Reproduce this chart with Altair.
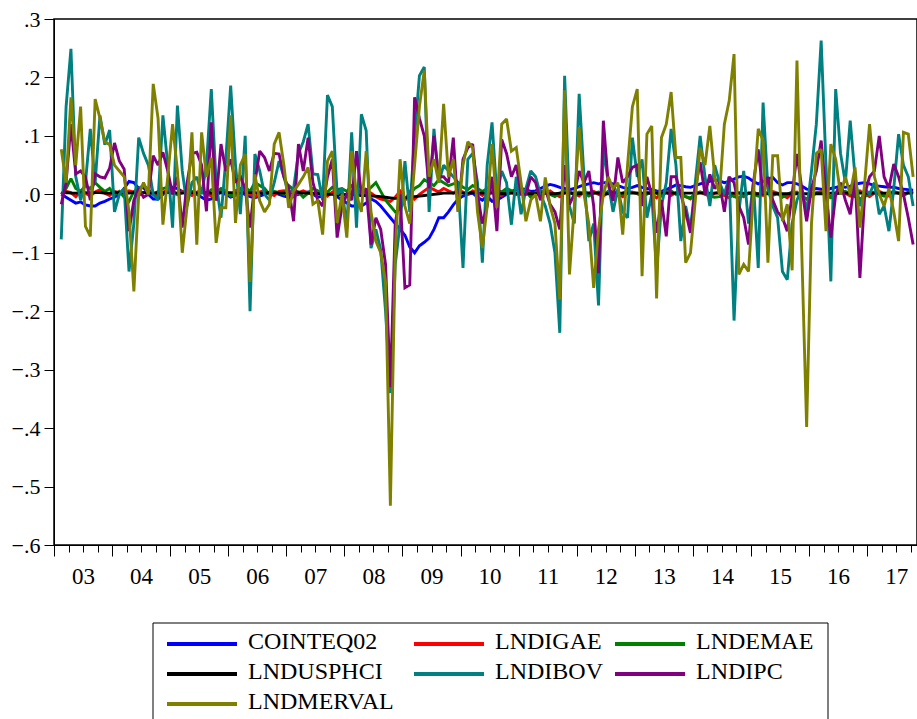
import json
import altair as alt
import pandas as pd

# ---------------- data (monthly, Feb 2003 .. Oct 2017) ----------------
series_names = ["COINTEQ02", "LNDIGAE", "LNDEMAE", "LNDUSPHCI", "LNDIBOV", "LNDIPC", "LNDMERVAL"]
series_colors = ["#0000FF", "#FF0000", "#008000", "#000000", "#008080", "#800080", "#808000"]
year_labels = ["03", "04", "05", "06", "07", "08", "09", "10", "11", "12", "13", "14", "15", "16", "17"]
y_ticks = [-0.6, -0.5, -0.4, -0.3, -0.2, -0.1, 0.0, 0.1, 0.2, 0.3]

cointeq02 = [
    0.0, -0.005, -0.01, -0.015, -0.013, -0.018, -0.02, -0.02, -0.015, -0.012,
    -0.008, -0.005, 0.0, 0.01, 0.022, 0.02, 0.01, 0.012, 0.0, -0.008,
    -0.008, 0.0, 0.008, 0.012, 0.01, 0.005, 0.003, 0.002, 0.0, -0.005,
    -0.01, -0.008, 0.0, 0.003, 0.0, -0.005, -0.002, 0.002, 0.0, -0.004,
    -0.006, -0.003, 0.0, 0.002, 0.003, 0.0, -0.003, -0.005, -0.002, 0.0,
    0.003, 0.004, 0.0, -0.005, -0.003, 0.0, 0.002, -0.004, -0.01, -0.015,
    -0.02, -0.02, -0.02, -0.015, -0.008, -0.012, -0.02, -0.03, -0.04, -0.05,
    -0.06, -0.07, -0.09, -0.10, -0.088, -0.082, -0.075, -0.06, -0.04, -0.04,
    -0.03, -0.018, -0.008, -0.003, 0.0, 0.002, -0.005, -0.01, -0.003, -0.012,
    -0.01, -0.005, 0.0, 0.005, 0.008, 0.01, 0.008, 0.005, 0.006, 0.01,
    0.014, 0.017, 0.015, 0.012, 0.01, 0.008, 0.01, 0.013, 0.016, 0.018,
    0.02, 0.018, 0.02, 0.02, 0.018, 0.015, 0.012, 0.01, 0.012, 0.015,
    0.012, 0.01, 0.008, 0.006, 0.005, 0.008, 0.012, 0.016, 0.015, 0.013,
    0.012, 0.015, 0.018, 0.02, 0.022, 0.025, 0.023, 0.02, 0.022, 0.026,
    0.03, 0.031, 0.028, 0.022, 0.018, 0.022, 0.026, 0.029, 0.02, 0.016,
    0.02, 0.02, 0.018, 0.014, 0.009, 0.008, 0.01, 0.009, 0.008, 0.01,
    0.012, 0.014, 0.012, 0.014, 0.017, 0.019, 0.02, 0.018, 0.015, 0.014,
    0.013, 0.012, 0.012, 0.01, 0.009, 0.008, 0.007,
]

lndigae = [
    0.0, 0.005, 0.003, -0.004, 0.006, 0.002, -0.003, 0.004, 0.008, 0.002,
    -0.002, 0.005, 0.003, 0.0, 0.006, 0.004, -0.002, 0.003, 0.006, 0.001,
    -0.003, 0.004, 0.007, 0.002, 0.0, 0.005, 0.003, -0.002, 0.004,
    0.006, 0.002, -0.003, 0.005, 0.008, 0.003, 0.0, 0.006, 0.01, 0.004,
    0.0, -0.005, 0.004, 0.007, 0.002, -0.002, 0.005, 0.006, 0.001, -0.004,
    0.003, 0.006, 0.002, 0.0, 0.005, 0.003, -0.003, 0.004, 0.006,
    0.002, -0.003, 0.004, 0.006, -0.002, 0.005, 0.002, -0.004, -0.008, -0.01,
    -0.012, -0.005, 0.005, -0.01, 0.004, -0.008, 0.0, 0.006, 0.012, 0.008,
    0.004, 0.01, 0.006, 0.002, 0.008, 0.004, 0.0, 0.006, 0.003, -0.002,
    0.004,
    0.006, 0.002, -0.002, 0.005, 0.003, 0.0, 0.004, 0.006, 0.002, -0.003,
    0.004, 0.002, 0.006, 0.0, -0.004, 0.003, 0.005, 0.001, -0.003, 0.004,
    0.002, 0.005, 0.0, -0.003, 0.003, 0.005, 0.001, -0.004, 0.002, 0.004,
    0.001, -0.003, 0.004, 0.0, -0.006, 0.002, 0.004, -0.002, 0.003, 0.0,
    -0.004, -0.008, 0.002, 0.004, 0.0, -0.003, 0.002, 0.004, -0.002, -0.006,
    0.0, 0.003, -0.004, 0.002, 0.004, 0.0, -0.002, 0.003, 0.005, 0.002,
    -0.002, -0.006, 0.002, 0.004, -0.003, -0.008, 0.0, 0.003, 0.005, 0.001,
    -0.004, 0.002, 0.006, 0.002, -0.003, 0.004, 0.006, 0.0, -0.004, 0.002,
    0.005, 0.001, -0.003, 0.004, 0.002, -0.002, 0.003, 0.001,
]

lndemae = [
    0.0, 0.01, 0.027, 0.01, 0.005, 0.015, 0.01, 0.02, 0.012, 0.005,
    0.01, 0.0, 0.005, -0.005, -0.012, 0.005, 0.01, 0.015, 0.008, 0.0,
    0.005, 0.01, 0.012, 0.006, 0.0, 0.003, 0.008, 0.005, 0.002,
    0.005, 0.0, 0.008, 0.004, 0.01, 0.006, -0.003, 0.0, 0.008, 0.012,
    0.005, 0.02, 0.015, 0.01, 0.0, 0.005, 0.003, 0.0, 0.015, 0.008,
    0.004, -0.005, 0.002, 0.01, 0.006, 0.0, 0.004, 0.012, 0.008,
    0.01, 0.005, 0.015, 0.01, 0.0, 0.005, 0.012, 0.02, 0.005, -0.01,
    -0.02, -0.03, -0.025, -0.01, 0.0, 0.01, 0.015, 0.025, 0.02, 0.015,
    0.025, 0.02, 0.015, 0.018, 0.02, 0.012, 0.008, 0.015, 0.01, 0.005,
    0.01,
    0.015, 0.008, 0.004, 0.01, 0.006, 0.0, 0.01, 0.005, -0.005, 0.003,
    0.006, 0.004, 0.0, -0.004, 0.002, 0.006, 0.003, 0.0, 0.004, 0.002,
    -0.003, 0.002, 0.004, 0.0, 0.005, 0.003, -0.002, 0.002, 0.006, 0.003,
    0.002, -0.004, 0.0, 0.005, 0.002, -0.003, 0.004, 0.006, 0.0, 0.003,
    -0.004, -0.006, 0.0, 0.004, 0.002, -0.003, -0.005, -0.004, 0.0, 0.002,
    -0.004, -0.006, -0.002, 0.002, 0.0, -0.003, 0.002, 0.003, -0.002, 0.001,
    -0.005, 0.0, 0.004, 0.002, -0.004, -0.008, -0.003, 0.002, 0.004, -0.002,
    -0.006, 0.0, 0.003, 0.005, 0.0, -0.004, -0.008, -0.004, 0.002, 0.004,
    0.0, -0.003, 0.002, 0.005, 0.002, -0.002, 0.004, 0.003,
]

lndusphci = [
    0.002, 0.003, 0.002, 0.002, 0.003, 0.003, 0.002, 0.003, 0.003, 0.002,
    0.002, 0.003, 0.003, 0.003, 0.002, 0.003, 0.003, 0.003, 0.002, 0.002,
    0.003, 0.003, 0.003, 0.003, 0.002, 0.002, 0.003, 0.003, 0.002,
    0.003, 0.003, 0.002, 0.002, 0.003, 0.003, 0.003, 0.002, 0.002, 0.003,
    0.003, 0.003, 0.002, 0.002, 0.003, 0.003, 0.002, 0.002, 0.002, 0.003,
    0.003, 0.002, 0.002, 0.002, 0.001, 0.001, 0.0, 0.0, -0.001,
    -0.001, 0.0, 0.0, -0.001, -0.002, -0.002, -0.003, -0.003, -0.004, -0.005,
    -0.006, -0.007, -0.007, -0.006, -0.005, -0.004, -0.003, -0.002, -0.001, 0.0,
    0.001, 0.002, 0.002, 0.002, 0.003, 0.002, 0.002, 0.003, 0.002, 0.002,
    0.002,
    0.002, 0.002, 0.001, 0.001, 0.002, 0.002, 0.002, 0.001, 0.001, 0.001,
    0.002, 0.002, 0.001, 0.001, 0.002, 0.002, 0.002, 0.001, 0.001, 0.002,
    0.002, 0.002, 0.002, 0.001, 0.001, 0.002, 0.002, 0.002, 0.002, 0.002,
    0.002, 0.002, 0.002, 0.002, 0.002, 0.002, 0.002, 0.002, 0.002, 0.002,
    0.002, 0.002, 0.002, 0.002, 0.002, 0.002, 0.002, 0.002, 0.002, 0.002,
    0.002, 0.002, 0.002, 0.002, 0.001, 0.001, 0.001, 0.001, 0.001, 0.001,
    0.001, 0.001, 0.001, 0.001, 0.001, 0.001, 0.001, 0.001, 0.001, 0.001,
    0.002, 0.002, 0.002, 0.002, 0.002, 0.002, 0.002, 0.002, 0.002, 0.002,
    0.002, 0.002, 0.002, 0.002, 0.002, 0.002, 0.002, 0.002,
]

lndibov = [
    -0.077, 0.15, 0.249, 0.03, -0.01, 0.02, 0.112, 0.02, 0.135, 0.085,
    0.11, -0.03, 0.0, 0.01, -0.132, -0.05, 0.097, 0.07, 0.05, 0.0,
    -0.01, 0.135, 0.05, -0.057, 0.152, 0.04, -0.02, 0.02, 0.03, 0.0,
    0.05, 0.18, 0.02, -0.04, 0.06, 0.186, 0.05, -0.034, 0.10, -0.20,
    0.069, 0.04, 0.0, -0.01, 0.02, 0.057, 0.03, 0.0, 0.01, 0.07,
    0.09, 0.12, 0.035, 0.034, -0.01, 0.17, 0.15, 0.0, 0.01, -0.057,
    0.106, -0.057, 0.137, 0.109, -0.092, -0.06, -0.095, -0.2, -0.34, -0.12,
    -0.05, 0.057, -0.03, 0.1, 0.203, 0.218, -0.03, 0.112, 0.02, 0.05,
    0.04, 0.03, 0.02, -0.126, 0.06, 0.07, 0.02, -0.117, 0.05, 0.123,
    0.0, 0.04, 0.02, -0.052, 0.03, -0.034, 0.01, 0.04, 0.03, 0.0,
    -0.02, -0.05, -0.1, -0.237, 0.203, -0.02, -0.05, 0.172, 0.03, -0.08,
    -0.05, -0.19, 0.08, 0.02, -0.03, 0.01, -0.03, -0.04, 0.097, 0.03,
    0.06, -0.04, 0.0, -0.13, -0.02, 0.02, 0.112, 0.05, -0.08, -0.02,
    -0.06, 0.02, 0.1, 0.03, -0.02, 0.05, 0.02, 0.0, 0.03, -0.216,
    -0.03, 0.04, -0.05, 0.02, -0.126, 0.157, 0.01, -0.02, -0.04, -0.132,
    -0.146, -0.05, -0.01, 0.01, -0.03, 0.04, 0.12, 0.263, 0.05, -0.149,
    0.18, 0.07, 0.02, 0.126, 0.03, -0.02, 0.01, 0.0, 0.02, -0.034,
    -0.02, -0.063, 0.01, 0.103, 0.05, 0.03, -0.02,
]

lndipc = [
    -0.017, 0.02, 0.12, 0.035, 0.04, 0.03, -0.01, 0.035, 0.03, 0.028,
    0.045, 0.088, 0.057, 0.043, -0.063, -0.01, 0.01, -0.005, 0.0, 0.066,
    0.05, 0.072, 0.04, 0.0, 0.03, -0.057, 0.02, 0.07, 0.072, 0.05,
    -0.029, 0.123, -0.011, 0.086, 0.04, 0.06, 0.02, 0.03, 0.01, -0.057,
    0.02, 0.074, 0.063, 0.04, 0.07, 0.069, 0.03, 0.01, -0.046, 0.086,
    0.04, 0.097, 0.02, -0.01, -0.02, 0.03, 0.06, -0.074, -0.02, 0.0,
    -0.01, 0.074, 0.0, 0.01, -0.086, -0.04, -0.06, -0.12, -0.33, -0.05,
    0.0, -0.16, -0.155, 0.166, 0.13, 0.10, 0.01, 0.1, 0.03, 0.03,
    0.02, 0.097, -0.03, 0.06, 0.08, 0.086, 0.0, -0.05, -0.02, 0.03,
    -0.063, 0.094, 0.07, 0.03, 0.05, 0.0, 0.0, 0.03, 0.02, -0.01,
    0.01, -0.017, -0.03, -0.06, 0.05, -0.017, 0.0, 0.04, 0.02, 0.04,
    -0.02, -0.135, 0.126, 0.02, -0.011, 0.063, 0.02, 0.03, 0.046, 0.05,
    -0.02, 0.03, 0.0, -0.066, -0.01, -0.072, 0.03, 0.03, 0.0, -0.03,
    -0.066, 0.01, 0.055, 0.0, 0.034, 0.01, 0.02, -0.03, 0.03, 0.02,
    -0.02, -0.04, -0.086, 0.02, 0.077, 0.0, 0.03, -0.01, -0.03, -0.04,
    -0.063, 0.0, 0.069, 0.01, -0.046, 0.01, 0.04, 0.092, 0.0, -0.074,
    0.0, 0.02, -0.01, -0.034, 0.03, -0.143, 0.0, 0.03, 0.04, 0.1,
    0.03, 0.01, 0.052, 0.03, 0.0, -0.04, -0.086,
]

lndmerval = [
    0.077, 0.02, 0.166, 0.05, 0.15, -0.055, -0.072, 0.163, 0.13, 0.09,
    0.085, 0.05, 0.04, 0.03, -0.03, -0.166, 0.0, 0.02, 0.0, 0.189,
    0.13, -0.052, 0.03, 0.12, 0.04, -0.10, -0.02, 0.106, -0.086, 0.106,
    0.03, 0.063, -0.083, -0.023, -0.023, 0.135, -0.049, 0.05, 0.069, -0.15,
    0.034, -0.011, -0.03, -0.017, 0.086, 0.106, 0.05, -0.023, 0.005, 0.017,
    0.03, 0.046, -0.017, -0.011, -0.069, 0.057, 0.074, -0.049, 0.0, -0.074,
    0.074, 0.0, -0.03, 0.074, -0.03, -0.08, -0.1, -0.15, -0.533, -0.1,
    0.06, -0.02, -0.05, 0.05, 0.15, 0.212, 0.03, 0.06, 0.02, 0.155,
    0.03, 0.06, -0.03, 0.05, 0.09, 0.08, -0.03, -0.092, -0.02, 0.086,
    -0.023, 0.12, 0.129, 0.074, 0.08, 0.02, -0.046, -0.01, 0.0, -0.046,
    0.029, -0.02, -0.05, -0.18, 0.178, -0.137, -0.02, 0.115, 0.0, -0.05,
    -0.16, -0.06, 0.0, 0.03, 0.01, 0.02, -0.069, 0.05, 0.15, 0.18,
    -0.14, 0.103, 0.117, -0.178, 0.097, 0.12, 0.175, 0.063, 0.063, -0.117,
    -0.1, -0.01, 0.08, 0.05, 0.117, 0.03, 0.0, 0.12, 0.16, 0.24,
    -0.137, -0.12, -0.132, 0.0, 0.112, 0.092, -0.117, 0.066, 0.066, -0.046,
    -0.017, -0.13, 0.229, -0.1, -0.398, -0.05, 0.07, 0.077, -0.063, 0.086,
    0.06, 0.0, 0.03, 0.0, 0.046, -0.057, 0.02, 0.12, 0.03, 0.0,
    -0.02, 0.01, -0.03, -0.08, 0.106, 0.103, 0.03,
]

all_values = [cointeq02, lndigae, lndemae, lndusphci, lndibov, lndipc, lndmerval]
n_obs = len(cointeq02)
for v in all_values:
    assert len(v) == n_obs, len(v)

# time axis: months since Jan 2003; observations start in Feb 2003 (mid-month)
first_obs_month = 1
t = [first_obs_month + k + 0.5 for k in range(n_obs)]

wide = pd.DataFrame({"t": t})
for name, vals in zip(series_names, all_values):
    wide[name] = vals
long = wide.melt("t", var_name="series", value_name="value")

# ---------------- chart ----------------
W, H = 863, 526
FONT = "Liberation Serif"
x_max = 178.3

label_expr = (
    "datum.value % 12 === 6 ? " + json.dumps(year_labels) + "[(datum.value - 6) / 12] : ''"
)
x_axis = alt.Axis(
    values=list(range(0, 178, 3)),
    tickSize={"condition": {"test": "datum.value % 12 === 0", "value": 11}, "value": 7},
    tickColor="black",
    tickWidth=1,
    domainColor="black",
    domainWidth=1,
    labelExpr=label_expr,
    labelFont=FONT,
    labelFontSize=23,
    labelColor="black",
    labelPadding=13,
    labelFlush=False,
    labelOverlap=False,
    grid=False,
    title=None,
)
y_axis = alt.Axis(
    values=y_ticks,
    labelExpr="replace(format(datum.value, '.1f'), '0.', '.')",
    tickSize=10,
    tickColor="black",
    tickWidth=1,
    domainColor="black",
    domainWidth=1,
    labelFont=FONT,
    labelFontSize=22,
    labelColor="black",
    labelPadding=4,
    grid=False,
    title=None,
)
x_enc = alt.X("t:Q", scale=alt.Scale(domain=[0, x_max], nice=False, zero=False), axis=x_axis)
y_enc = alt.Y("value:Q", scale=alt.Scale(domain=[-0.6, 0.3], nice=False, zero=False), axis=y_axis)
color_scale = alt.Scale(domain=series_names, range=series_colors)

line_layers = []
for name in series_names:
    line_layers.append(
        alt.Chart(long)
        .transform_filter(alt.datum.series == name)
        .mark_line(strokeWidth=2.9, strokeJoin="miter", strokeMiterLimit=2)
        .encode(x=x_enc, y=y_enc, color=alt.Color("series:N", scale=color_scale, legend=None))
    )
lines = alt.layer(*line_layers)

# ---------------- legend (3 columns) ----------------
legend_df = pd.DataFrame({
    "series": series_names,
    "col": [i % 3 for i in range(len(series_names))],
    "row": [i // 3 for i in range(len(series_names))],
})
leg_x = alt.X("col:Q", scale=alt.Scale(domain=[0, 1, 2], range=[148, 395, 596]), axis=None)
leg_y = alt.Y("row:Q", scale=alt.Scale(domain=[0, 2], range=[625, 685]), axis=None)

leg_lines = alt.Chart(legend_df).mark_point(
    shape="stroke", size=4900, strokeWidth=4, filled=False, opacity=1
).encode(x=leg_x, y=leg_y, color=alt.Color("series:N", scale=color_scale, legend=None))

leg_text = alt.Chart(legend_df).mark_text(
    align="left", baseline="middle", dx=46, dy=-2, font=FONT, fontSize=24, color="black"
).encode(x=leg_x, y=leg_y, text="series:N")

leg_box = alt.Chart(pd.DataFrame({"a": [0]})).mark_rect(
    fill=None, stroke="black", strokeWidth=1
).encode(x=alt.value(99), x2=alt.value(774), y=alt.value(604), y2=alt.value(712))

legend = alt.layer(leg_box, leg_lines, leg_text)

chart = (
    alt.layer(lines, legend)
    .resolve_scale(x="independent", y="independent")
    .properties(
        width=W,
        height=H,
        autosize=alt.AutoSizeParams(type="none"),
        padding={"left": 54, "top": 19, "right": 0, "bottom": 174},
        background="white",
    )
    .configure_view(stroke="black", strokeWidth=1.5)
)

chart.save("out.html", embed_options={"renderer": "svg", "actions": False})
